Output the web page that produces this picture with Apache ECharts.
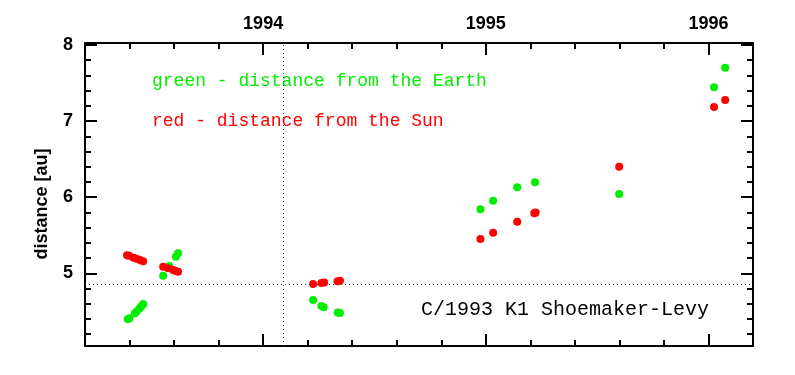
<!DOCTYPE html>
<html>
<head>
<meta charset="utf-8">
<script src="https://cdn.jsdelivr.net/npm/echarts@6/dist/echarts.min.js"></script>
<style>html,body{margin:0;padding:0;background:#fff;}#c{width:795px;height:375px;}</style>
</head>
<body>
<div id="c"></div>
<script>
// ---- data ----
var earthYears = [1993.392, 1993.400, 1993.424, 1993.433, 1993.446, 1993.454, 1993.461,
  1993.551, 1993.578, 1993.608, 1993.618,
  1994.2245, 1994.262, 1994.272, 1994.335, 1994.345,
  1994.976, 1995.033, 1995.141, 1995.221,
  1995.599,
  1996.025, 1996.075];
var earthDist = [4.396, 4.410, 4.475, 4.500, 4.540, 4.570, 4.597,
  4.968, 5.096, 5.218, 5.263,
  4.649, 4.570, 4.555, 4.486, 4.480,
  5.840, 5.953, 6.129, 6.195,
  6.041,
  7.443, 7.700];
var sunYears = [1993.389, 1993.398, 1993.418, 1993.432, 1993.447, 1993.461,
  1993.551, 1993.573, 1993.596, 1993.607, 1993.618,
  1994.2245, 1994.262, 1994.274, 1994.334, 1994.345,
  1994.976, 1995.033, 1995.141, 1995.218, 1995.224,
  1995.599,
  1996.025, 1996.075];
var sunDist = [5.236, 5.230, 5.205, 5.190, 5.175, 5.158,
  5.087, 5.066, 5.043, 5.030, 5.021,
  4.859, 4.874, 4.878, 4.897, 4.901,
  5.450, 5.533, 5.678, 5.790, 5.800,
  6.400,
  7.184, 7.276];
var yearTicks = [1994, 1995, 1996];
var yearMinorTicks = [1993.4, 1993.6, 1993.8, 1994.2, 1994.4, 1994.6, 1994.8, 1995.2, 1995.4, 1995.6, 1995.8];
var distTicks = [5, 6, 7, 8];
var distMinorTicks = [4.2, 4.4, 4.6, 4.8, 5.2, 5.4, 5.6, 5.8, 6.2, 6.4, 6.6, 6.8, 7.2, 7.4, 7.6, 7.8];
var refYear = 1994.087;
var refDist = 4.846;
var legendTexts = ['green - distance from the Earth', 'red - distance from the Sun'];
var cometName = 'C/1993 K1 Shoemaker-Levy';

var xMin = 1993.2, xMax = 1996.2, yMin = 4.045, yMax = 8.025;

function pairs(xs, ys) { return xs.map(function (x, i) { return [x, ys[i]]; }); }

var gridBox = { left: 85, right: 42, top: 43, bottom: 29 };
function xAx(grid, pos, ticks, len, labels, line) {
  return {
    type: 'value', gridIndex: grid, position: pos, min: xMin, max: xMax,
    axisLine: { show: line, onZero: false, lineStyle: { color: '#000', width: 2 } },
    axisTick: { show: true, inside: true, length: len, customValues: ticks, lineStyle: { color: '#000', width: 2 } },
    axisLabel: labels ? { show: true, customValues: yearTicks, margin: 10, color: '#000',
      fontFamily: 'Liberation Sans', fontWeight: 'bold', fontSize: 18, formatter: function (v) { return String(Math.round(v)); } } : { show: false },
    splitLine: { show: false }
  };
}
function yAx(grid, pos, ticks, len, labels, line) {
  return {
    type: 'value', gridIndex: grid, position: pos, min: yMin, max: yMax,
    axisLine: { show: line, onZero: false, lineStyle: { color: '#000', width: 2 } },
    axisTick: { show: true, inside: true, length: len, customValues: ticks, lineStyle: { color: '#000', width: 2 } },
    axisLabel: labels ? { show: true, customValues: distTicks, margin: 12, color: '#000',
      fontFamily: 'Liberation Sans', fontWeight: 'bold', fontSize: 18, formatter: function (v) { return String(Math.round(v)); } } : { show: false },
    splitLine: { show: false }
  };
}

var chart = echarts.init(document.getElementById('c'), null, { renderer: 'canvas' });
chart.setOption({
  animation: false,
  backgroundColor: '#fff',
  grid: [Object.assign({}, gridBox), Object.assign({}, gridBox)],
  xAxis: [
    xAx(0, 'bottom', yearTicks, 12, false, true),
    xAx(0, 'top', yearTicks, 12, true, true),
    xAx(1, 'bottom', yearMinorTicks, 6, false, false),
    xAx(1, 'top', yearMinorTicks, 6, false, false)
  ],
  yAxis: [
    yAx(0, 'left', distTicks, 12, true, true),
    yAx(0, 'right', distTicks, 12, false, true),
    yAx(1, 'left', distMinorTicks, 6, false, false),
    yAx(1, 'right', distMinorTicks, 6, false, false)
  ],
  series: [
    {
      type: 'scatter', xAxisIndex: 0, yAxisIndex: 0, symbol: 'circle', symbolSize: 8,
      itemStyle: { color: '#00ee00', opacity: 1 }, data: pairs(earthYears, earthDist),
      markLine: {
        silent: true, symbol: 'none', label: { show: false },
        lineStyle: { color: '#333', width: 1, type: [1, 3] },
        data: [{ xAxis: refYear }, { yAxis: refDist }]
      }
    },
    {
      type: 'scatter', xAxisIndex: 0, yAxisIndex: 0, symbol: 'circle', symbolSize: 8,
      itemStyle: { color: '#ff0000', opacity: 1 }, data: pairs(sunYears, sunDist)
    },
    { type: 'scatter', xAxisIndex: 2, yAxisIndex: 2, data: [] }
  ],
  graphic: [
    { type: 'text', left: 152, top: 72, style: { text: legendTexts[0], fill: '#00ee00', font: '18px "Liberation Mono"' } },
    { type: 'text', left: 152, top: 112, style: { text: legendTexts[1], fill: '#ff0000', font: '18px "Liberation Mono"' } },
    { type: 'text', left: 421, top: 300, style: { text: cometName, fill: '#000', font: '20px "Liberation Mono"' } },
    { type: 'text', x: 42, y: 204, rotation: Math.PI / 2,
      style: { text: 'distance [au]', fill: '#000', font: 'bold 18px "Liberation Sans"', align: 'center', verticalAlign: 'middle' } }
  ]
});
</script>
</body>
</html>
